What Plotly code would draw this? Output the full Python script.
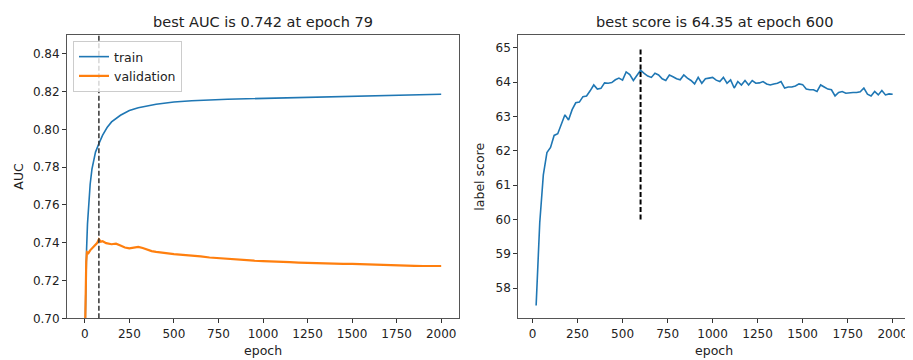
import plotly.graph_objects as go

# ---------------- data ----------------
train_epochs = [1, 5, 10, 15, 20, 30, 40, 50, 60, 79, 100, 125, 150, 200, 250, 300,
                400, 500, 600, 800, 1000, 1200, 1400, 1600, 1800, 2000]
train_auc = [0.690, 0.720, 0.737, 0.750, 0.758, 0.771, 0.779, 0.784, 0.788, 0.7925,
             0.797, 0.801, 0.804, 0.8075, 0.810, 0.8115, 0.8133, 0.8145, 0.8152,
             0.8160, 0.8165, 0.8169, 0.8175, 0.8178, 0.8182, 0.8186]

val_epochs = [1, 3, 5, 8, 12, 20, 30, 40, 50, 60, 70, 79, 90, 100, 120, 150, 175, 200,
              225, 250, 275, 300, 325, 350, 375, 400, 450, 500, 550, 600, 650, 700,
              750, 800, 850, 900, 950, 1000, 1050, 1100, 1150, 1200, 1250, 1300, 1350,
              1400, 1450, 1500, 1550, 1600, 1650, 1700, 1750, 1800, 1850, 1900, 1950, 2000]
val_auc = [0.690, 0.705, 0.722, 0.730, 0.735, 0.7345, 0.736, 0.737, 0.7375, 0.739,
           0.740, 0.7418, 0.7405, 0.7408, 0.7398, 0.7392, 0.7395, 0.7385, 0.7375,
           0.7370, 0.7373, 0.7378, 0.7372, 0.7362, 0.7356, 0.7352, 0.7345, 0.7340,
           0.7336, 0.7333, 0.7328, 0.7322, 0.7318, 0.7315, 0.7313, 0.7308, 0.7305,
           0.7303, 0.7300, 0.7300, 0.7297, 0.7295, 0.7293, 0.7292, 0.7290, 0.7290,
           0.7288, 0.7288, 0.7286, 0.7284, 0.7283, 0.7281, 0.7280, 0.7279, 0.7278,
           0.7277, 0.7277, 0.7277]

score_epochs = list(range(20, 2001, 20))
label_score = [57.5, 59.9, 61.3, 61.95, 62.1, 62.45, 62.5, 62.8, 63.05, 62.9,
               63.2, 63.4, 63.42, 63.58, 63.6, 63.75, 63.92, 63.8, 63.82, 63.98,
               63.97, 63.99, 64.07, 64.12, 64.06, 64.3, 64.22, 64.05, 64.2, 64.35,
               64.26, 64.18, 64.14, 64.26, 64.21, 64.1, 64.05, 64.21, 64.16, 64.1,
               64.07, 64.21, 64.12, 64.05, 63.95, 64.14, 63.97, 64.1, 64.12, 64.14,
               64.06, 64.02, 64.14, 63.97, 64.07, 63.83, 64.02, 63.92, 64.05, 63.92,
               64.05, 63.97, 63.98, 64.02, 63.95, 63.92, 63.95, 63.97, 64.02, 63.83,
               63.86, 63.86, 63.89, 63.95, 63.93, 63.8, 63.78, 63.78, 63.73, 63.92,
               63.86, 63.8, 63.78, 63.6, 63.7, 63.73, 63.68, 63.7, 63.7, 63.7,
               63.72, 63.83, 63.65, 63.6, 63.73, 63.63, 63.76, 63.63, 63.66, 63.65]

best_auc = 0.742
best_auc_epoch = 79
best_score = 64.35
best_score_epoch = 600
score_marker_range = [60, 65]

left_yticks = [0.70, 0.72, 0.74, 0.76, 0.78, 0.80, 0.82, 0.84]
right_yticks = [58, 59, 60, 61, 62, 63, 64, 65]
xticks = [0, 250, 500, 750, 1000, 1250, 1500, 1750, 2000]

BLUE = "#1f77b4"
ORANGE = "#ff7f0e"
FONT = "DejaVu Sans"

# page body has an 8px margin: the figure is drawn 8px in from the top-left corner
OFF = 8
W, H = 913 - OFF, 360 - OFF


def px(x):
    return (x - OFF) / W


def py(y):
    return 1 - (y - OFF) / H


fig = go.Figure()
fig.add_trace(go.Scatter(x=train_epochs, y=train_auc, mode="lines", name="train",
                         line=dict(color=BLUE, width=1.6), xaxis="x", yaxis="y"))
fig.add_trace(go.Scatter(x=val_epochs, y=val_auc, mode="lines", name="validation",
                         line=dict(color=ORANGE, width=2.2), xaxis="x", yaxis="y"))
fig.add_trace(go.Scatter(x=score_epochs, y=label_score, mode="lines", showlegend=False,
                         line=dict(color=BLUE, width=1.6), xaxis="x2", yaxis="y2"))
fig.add_trace(go.Scatter(x=[best_score_epoch, best_score_epoch], y=score_marker_range,
                         mode="lines", showlegend=False,
                         line=dict(color="black", width=2, dash="5px,2.5px"),
                         xaxis="x2", yaxis="y2"))

fig.add_shape(type="line", xref="x", yref="y domain", x0=best_auc_epoch, x1=best_auc_epoch,
              y0=0, y1=1, line=dict(color="#333333", width=1.5, dash="5px,2.5px"))

axis_common = dict(showgrid=False, zeroline=False, showline=True, mirror=True,
                   linecolor="#555555", linewidth=1, ticks="outside", ticklen=4,
                   tickcolor="#333333", automargin=False,
                   tickfont=dict(family=FONT, size=12, color="#222"))

# target pixel layout (in the 913x360 window)
L1, R1 = 67, 459
L2, R2 = 518.3, 910.5
TOP, BOT = 35, 318.3

fig.update_layout(
    width=W, height=H, margin=dict(l=0, r=0, t=0, b=0, autoexpand=False),
    paper_bgcolor="white", plot_bgcolor="white",
    font=dict(family=FONT, size=12, color="#222"),
    xaxis=dict(domain=[px(L1), px(R1)], range=[-100, 2100], tickvals=xticks,
               anchor="y", **axis_common),
    yaxis=dict(domain=[py(BOT), py(TOP)], range=[0.70, 0.85], tickvals=left_yticks,
               tickformat=".2f", anchor="x", **axis_common),
    xaxis2=dict(domain=[px(L2), px(R2)], range=[-79, 2099], tickvals=xticks,
                anchor="y2", **axis_common),
    yaxis2=dict(domain=[py(BOT), py(TOP)], range=[57.125, 65.375],
                tickvals=right_yticks, anchor="x2", **axis_common),
    legend=dict(x=px(73), y=py(41), xanchor="left", yanchor="top",
                bgcolor="rgba(255,255,255,0.8)", bordercolor="#cccccc", borderwidth=1,
                font=dict(family=FONT, size=12.5), itemwidth=30,
                tracegroupgap=0),
    showlegend=True,
)


def label(text, xpx, ypx, size=12.5, angle=0):
    fig.add_annotation(text=text, x=px(xpx), y=py(ypx), xref="paper", yref="paper",
                       xanchor="center", yanchor="middle", showarrow=False,
                       textangle=angle, font=dict(family=FONT, size=size, color="#222"))


label(f"best AUC is {best_auc} at epoch {best_auc_epoch}", (L1 + R1) / 2, 22.5, size=14.5)
label(f"best score is {best_score} at epoch {best_score_epoch}", (L2 + R2) / 2, 22.5, size=14.5)
label("epoch", (L1 + R1) / 2, 350)
label("epoch", (L2 + R2) / 2, 350)
label("AUC", 19, (TOP + BOT) / 2)
fig.layout.annotations[-1].textangle = -90
label("label score", 480, (TOP + BOT) / 2, angle=-90)

fig.write_html("out.html")
